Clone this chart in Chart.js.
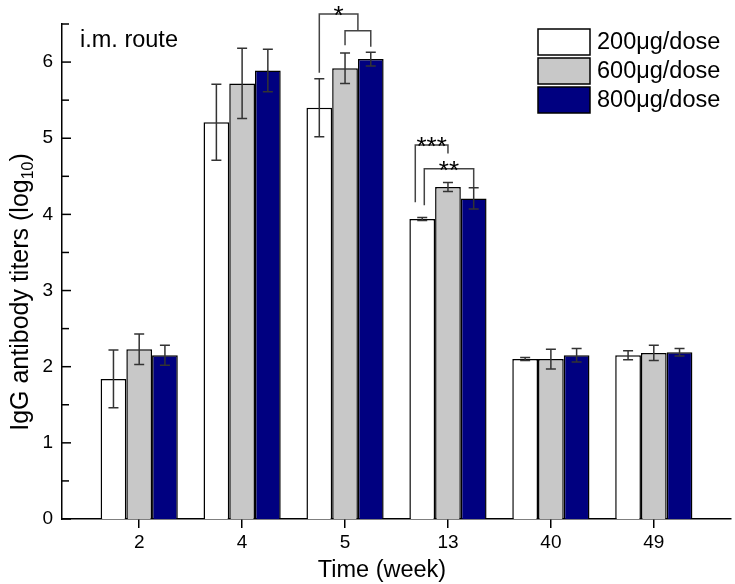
<!DOCTYPE html>
<html>
<head>
<meta charset="utf-8">
<script src="https://cdn.jsdelivr.net/npm/chart.js@4.4.1/dist/chart.umd.min.js"></script>
<style>
  html, body { margin: 0; padding: 0; background: #fff; }
  #wrap { width: 735px; height: 584px; }
</style>
</head>
<body>
<div id="wrap"><canvas id="igg"></canvas></div>
<script>
// Week labels and mean titers (log10) per dose group
const weeks = ['2', '4', '5', '13', '40', '49'];
const doses = ['200μg/dose', '600μg/dose', '800μg/dose'];

const dose200 = [1.84, 5.21, 5.40, 3.94, 2.10, 2.15];
const dose600 = [2.23, 5.72, 5.92, 4.36, 2.10, 2.18];
const dose800 = [2.15, 5.89, 6.04, 4.21, 2.15, 2.19];

// +/- error (log10 units)
const err200 = [0.38, 0.50, 0.38, 0.02, 0.02, 0.06];
const err600 = [0.20, 0.46, 0.20, 0.06, 0.13, 0.10];
const err800 = [0.13, 0.28, 0.09, 0.14, 0.09, 0.05];

const yTicks = [0, 1, 2, 3, 4, 5, 6];

// significance brackets: week index, left leg (dataset, offset in bar widths, low y),
// right leg (dataset or between two datasets, low y), top y, label
const sigBrackets = [
  { week: 2, left: [0, 0, 5.86], right: [1.5, 0, 6.41], top: 6.63, label: '*' },
  { week: 2, left: [1, 0, 6.22], right: [2, 0, 6.20], top: 6.41, label: '' },
  { week: 3, left: [0, -0.27, 4.16], right: [1, 0, 4.80], top: 4.91, label: '***' },
  { week: 3, left: [0, 0.08, 4.12], right: [2, 0, 4.36], top: 4.60, label: '**' }
];

const fillColors = ['#ffffff', '#c8c8c8', '#000080'];
const errors = [err200, err600, err800];
const FONT = '"Liberation Sans", Arial, sans-serif';

function toPoints(arr) {
  return arr.map((v, i) => ({ x: i + 1, y: v }));
}

const extras = {
  id: 'extras',
  afterDatasetsDraw(chart) {
    const ctx = chart.ctx;
    const y = chart.scales.y;

    // error bars
    ctx.save();
    ctx.strokeStyle = '#333333';
    ctx.lineWidth = 1.5;
    chart.data.datasets.forEach((ds, d) => {
      const meta = chart.getDatasetMeta(d);
      meta.data.forEach((bar, i) => {
        const v = ds.data[i].y;
        const e = errors[d][i];
        const yHi = y.getPixelForValue(v + e);
        const yLo = y.getPixelForValue(v - e);
        ctx.beginPath();
        ctx.moveTo(bar.x, yHi); ctx.lineTo(bar.x, yLo);
        ctx.moveTo(bar.x - 5, yHi); ctx.lineTo(bar.x + 5, yHi);
        ctx.moveTo(bar.x - 5, yLo); ctx.lineTo(bar.x + 5, yLo);
        ctx.stroke();
      });
    });
    ctx.restore();

    // y ticks (inside)
    ctx.save();
    ctx.strokeStyle = '#000';
    ctx.lineWidth = 1.5;
    const left = chart.chartArea.left;
    for (let v = 0; v <= 6.5; v += 0.5) {
      const py = y.getPixelForValue(v);
      ctx.beginPath();
      ctx.moveTo(left, py);
      ctx.lineTo(left + (v % 1 === 0 ? 9 : 7), py);
      ctx.stroke();
    }
    ctx.restore();
  },
  afterDraw(chart) {
    const ctx = chart.ctx;
    const y = chart.scales.y;

    function barX(week, dsPos, off) {
      const base = Math.floor(dsPos);
      const m0 = chart.getDatasetMeta(base).data[week];
      let x = m0.x;
      if (dsPos !== base) {
        const m1 = chart.getDatasetMeta(base + 1).data[week];
        x = x + (m1.x - m0.x) * (dsPos - base);
      }
      return x + off * m0.width;
    }

    // brackets
    ctx.save();
    ctx.strokeStyle = '#444';
    ctx.lineWidth = 1.5;
    ctx.fillStyle = '#000';
    ctx.font = '26px ' + FONT;
    ctx.textAlign = 'center';
    ctx.textBaseline = 'alphabetic';
    sigBrackets.forEach(b => {
      const x1 = barX(b.week, b.left[0], b.left[1]);
      const x2 = barX(b.week, b.right[0], b.right[1]);
      const yTop = y.getPixelForValue(b.top);
      ctx.beginPath();
      ctx.moveTo(x1, y.getPixelForValue(b.left[2]));
      ctx.lineTo(x1, yTop);
      ctx.lineTo(x2, yTop);
      ctx.lineTo(x2, y.getPixelForValue(b.right[2]));
      ctx.stroke();
      if (b.label) ctx.fillText(b.label, (x1 + x2) / 2, yTop + 10);
    });
    ctx.restore();

    // route text
    ctx.save();
    ctx.fillStyle = '#000';
    ctx.font = '23.5px ' + FONT;
    ctx.textBaseline = 'middle';
    ctx.fillText('i.m. route', 80, 41);

    // legend
    doses.forEach((name, i) => {
      const top = 29 + i * 29;
      ctx.fillStyle = fillColors[i];
      ctx.fillRect(538, top, 52, 26);
      ctx.strokeStyle = '#000';
      ctx.lineWidth = 1.5;
      ctx.strokeRect(538, top, 52, 26);
      ctx.fillStyle = '#000';
      ctx.fillText(name, 597, top + 14);
    });

    // x title
    ctx.font = '23.5px ' + FONT;
    ctx.textAlign = 'center';
    ctx.textBaseline = 'alphabetic';
    ctx.fillText('Time (week)', 382, 577);

    // y title with subscript
    ctx.translate(28, 292);
    ctx.rotate(-Math.PI / 2);
    const main = 'IgG antibody titers (log';
    ctx.font = '25px ' + FONT;
    const w1 = ctx.measureText(main).width;
    const w3 = ctx.measureText(')').width;
    ctx.font = '16px ' + FONT;
    const w2 = ctx.measureText('10').width;
    let x = -(w1 + w2 + w3) / 2;
    ctx.textAlign = 'left';
    ctx.font = '25px ' + FONT;
    ctx.fillText(main, x, 0);
    x += w1;
    ctx.font = '16px ' + FONT;
    ctx.fillText('10', x, 5);
    x += w2;
    ctx.font = '25px ' + FONT;
    ctx.fillText(')', x, 0);
    ctx.restore();
  }
};

new Chart(document.getElementById('igg'), {
  type: 'bar',
  data: {
    datasets: [
      { label: doses[0], data: toPoints(dose200), backgroundColor: fillColors[0] },
      { label: doses[1], data: toPoints(dose600), backgroundColor: fillColors[1] },
      { label: doses[2], data: toPoints(dose800), backgroundColor: fillColors[2] }
    ]
  },
  options: {
    responsive: true,
    maintainAspectRatio: false,
    animation: false,
    layout: { padding: { left: 0, top: 24, right: 4, bottom: 0 } },
    datasets: {
      bar: {
        borderColor: '#000',
        borderWidth: 1.5,
        categoryPercentage: 0.75,
        barPercentage: 1.0
      }
    },
    scales: {
      x: {
        type: 'linear',
        min: 0.25,
        max: 6.75,
        offset: false,
        afterBuildTicks: s => { s.ticks = weeks.map((_, i) => ({ value: i + 1 })); },
        afterFit: s => { s.height = 65; },
        ticks: {
          color: '#000',
          font: { family: FONT, size: 19 },
          padding: 3,
          maxRotation: 0,
          callback: v => weeks[v - 1]
        },
        grid: { drawOnChartArea: false, offset: false, tickLength: 9, color: '#000', lineWidth: 1.5 },
        border: { color: '#000', width: 1.5 }
      },
      y: {
        min: 0,
        max: 6.5,
        afterBuildTicks: s => { s.ticks = yTicks.map(v => ({ value: v })); },
        afterFit: s => { s.width = 62; },
        ticks: {
          color: '#000',
          font: { family: FONT, size: 19 },
          padding: 1
        },
        grid: { display: false },
        border: { color: '#000', width: 1.5 }
      }
    },
    plugins: {
      legend: { display: false },
      tooltip: { enabled: false }
    }
  },
  plugins: [extras]
});
</script>
</body>
</html>
